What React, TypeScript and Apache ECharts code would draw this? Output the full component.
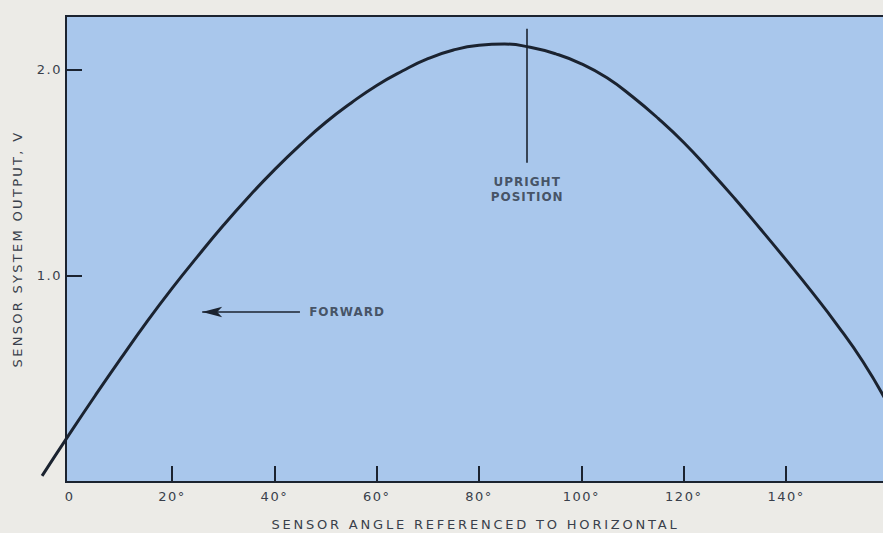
import { useEffect, useRef } from "react";
import * as echarts from "echarts";

// Sensor angle (degrees from horizontal) and sensor output (V)
const angles = [-5.4, 0, 5, 10, 15, 20, 25, 30, 35, 40, 45, 50, 55, 60, 65, 70, 75, 80, 85, 90, 95, 100, 105, 110, 115, 120, 125, 130, 135, 140, 145, 150, 155, 159.3];
const outputs = [0.03, 0.235, 0.42, 0.6, 0.775, 0.94, 1.095, 1.245, 1.385, 1.515, 1.635, 1.745, 1.84, 1.925, 1.995, 2.055, 2.097, 2.12, 2.126, 2.11, 2.078, 2.03, 1.962, 1.87, 1.765, 1.648, 1.515, 1.375, 1.228, 1.078, 0.924, 0.762, 0.585, 0.405];

const xTickValues = [20, 40, 60, 80, 100, 120, 140];
const xLabelValues = [0, 20, 40, 60, 80, 100, 120, 140];
const yTickValues = [1, 2];
const xAxisTitle = "SENSOR ANGLE REFERENCED TO HORIZONTAL";
const yAxisTitle = "SENSOR SYSTEM OUTPUT, V";

// Annotations (data coordinates)
const uprightAngle = 89.4;
const uprightLineTop = 2.2;
const uprightLineBottom = 1.55;
const uprightLabel = "UPRIGHT\nPOSITION";
const uprightLabelValue = 1.42;
const forwardArrowFrom = [45.0, 0.825];
const forwardArrowTo = [25.9, 0.825];
const forwardLabel = "FORWARD";
const forwardLabelAt = [46.8, 0.825];

const INK = "#1b2330";
const TEXT = "#393f4b";
const FONT = "DejaVu Sans";

const X_MIN = -0.72;
const X_MIN_WIDE = -6;
const X_MAX = 159.33;
const Y_MAX = 2.262;

export default function App() {
  const ref = useRef<HTMLDivElement>(null);

  useEffect(() => {
    const el = ref.current!;
    const chart = echarts.init(el, null, { renderer: "svg" });
    chart.setOption({
      animation: false,
      backgroundColor: "#ecebe7",
      grid: [
        {
          left: 66,
          top: 16,
          right: -2,
          bottom: 51,
          outerBoundsMode: "none",
          containLabel: false,
          show: true,
          backgroundColor: "#a9c7ec",
          borderColor: INK,
          borderWidth: 2,
        },
        // wider, invisible grid sharing the same scale so the curve can start left of the frame
        {
          left: 39,
          top: 16,
          right: -2,
          bottom: 51,
          outerBoundsMode: "none",
          containLabel: false,
          show: false,
        },
      ],
      xAxis: [
        {
          type: "value",
          gridIndex: 0,
          min: X_MIN,
          max: X_MAX,
          axisLine: { show: true, onZero: false, lineStyle: { color: INK, width: 2 } },
          axisTick: {
            show: true,
            inside: true,
            length: 16,
            customValues: xTickValues,
            lineStyle: { color: INK, width: 2 },
          },
          axisLabel: {
            customValues: xLabelValues,
            formatter: (v: number) => (v === 0 ? "0" : v + "°"),
            margin: 8,
            color: TEXT,
            fontFamily: FONT,
            fontSize: 13,
          },
          splitLine: { show: false },
          name: xAxisTitle,
          nameLocation: "middle",
          nameGap: 36,
          nameTextStyle: { color: TEXT, fontFamily: FONT, fontSize: 13 },
        },
        {
          type: "value",
          gridIndex: 1,
          min: X_MIN_WIDE,
          max: X_MAX,
          show: false,
        },
      ],
      yAxis: [
        {
          type: "value",
          gridIndex: 0,
          min: 0,
          max: Y_MAX,
          axisLine: { show: true, onZero: false, lineStyle: { color: INK, width: 2 } },
          axisTick: {
            show: true,
            inside: true,
            length: 16,
            customValues: yTickValues,
            lineStyle: { color: INK, width: 2 },
          },
          axisLabel: {
            customValues: yTickValues,
            formatter: (v: number) => v.toFixed(1),
            margin: 4,
            color: TEXT,
            fontFamily: FONT,
            fontSize: 13,
          },
          splitLine: { show: false },
          name: yAxisTitle,
          nameLocation: "middle",
          nameGap: 42,
          nameTextStyle: { color: TEXT, fontFamily: FONT, fontSize: 13 },
        },
        {
          type: "value",
          gridIndex: 1,
          min: 0,
          max: Y_MAX,
          show: false,
        },
      ],
      series: [
        {
          type: "line",
          xAxisIndex: 1,
          yAxisIndex: 1,
          data: angles.map((a, i) => [a, outputs[i]]),
          smooth: 0.5,
          showSymbol: false,
          clip: false,
          silent: true,
          z: 3,
          lineStyle: { color: INK, width: 3 },
        },
        {
          type: "scatter",
          xAxisIndex: 0,
          yAxisIndex: 0,
          symbolSize: 0,
          silent: true,
          clip: false,
          markLine: {
            silent: true,
            animation: false,
            label: { show: false },
            lineStyle: { color: INK, width: 1.6, type: "solid" },
            symbolSize: [8, 20],
            data: [
              [
                { coord: [uprightAngle, uprightLineTop], symbol: "none" },
                { coord: [uprightAngle, uprightLineBottom], symbol: "none" },
              ],
              [
                { coord: forwardArrowFrom, symbol: "none" },
                { coord: forwardArrowTo, symbol: "arrow", symbolSize: [8, 20] },
              ],
            ],
          },
          data: [
            {
              value: [uprightAngle, uprightLabelValue],
              label: {
                show: true,
                position: "inside",
                formatter: uprightLabel,
                color: "#2c3442",
                fontFamily: FONT,
                fontWeight: "bold",
                fontSize: 12,
                lineHeight: 15,
                align: "center",
              },
            },
            {
              value: forwardLabelAt,
              label: {
                show: true,
                position: "right",
                distance: 0,
                formatter: forwardLabel,
                color: "#2c3442",
                fontFamily: FONT,
                fontWeight: "bold",
                fontSize: 12,
              },
            },
          ],
        },
      ],
    });

    const applySpacing = () => {
      el.querySelectorAll("text").forEach((t) => {
        const s = t.textContent || "";
        let ls = 1.5;
        if (s === xAxisTitle) ls = 2.8;
        else if (s === yAxisTitle) ls = 2.3;
        else if (/[A-Z]/.test(s)) ls = 1;
        (t as SVGTextElement).style.letterSpacing = ls + "px";
      });
    };
    applySpacing();
    chart.on("finished", applySpacing);

    return () => {
      chart.dispose();
    };
  }, []);

  return (
    <div
      ref={ref}
      style={{ position: "absolute", left: 0, top: 0, width: 883, height: 533 }}
    />
  );
}
